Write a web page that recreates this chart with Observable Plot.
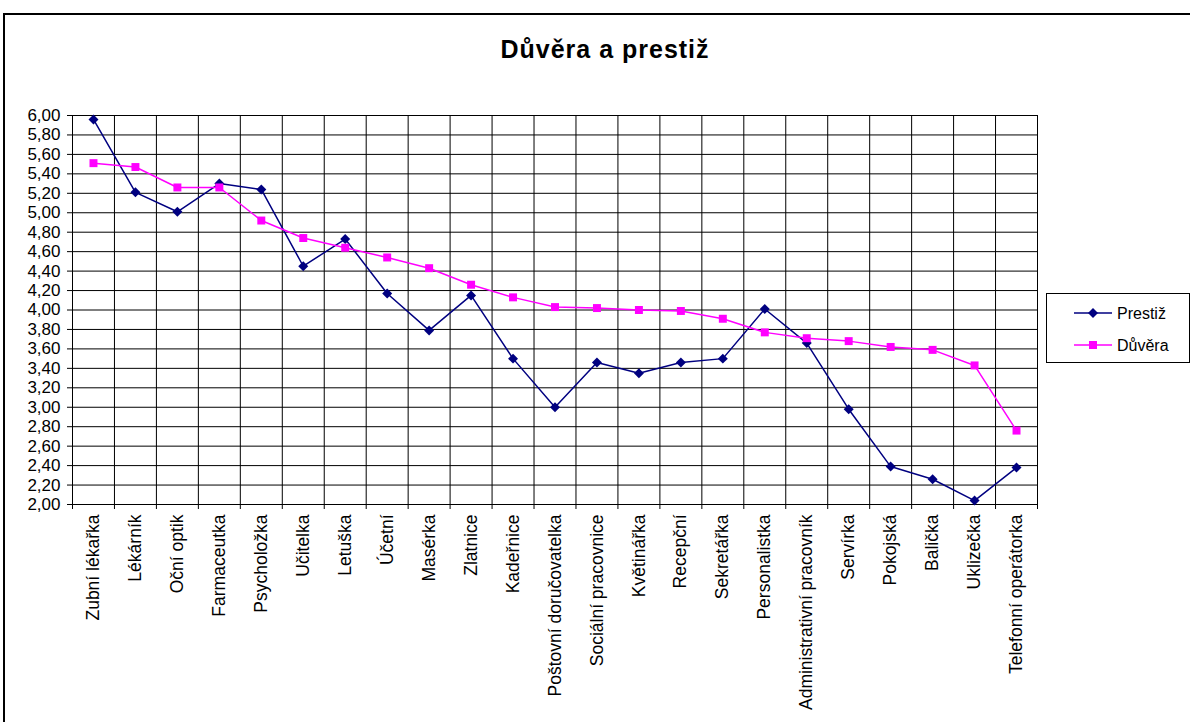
<!DOCTYPE html>
<html>
<head>
<meta charset="utf-8">
<script src="https://cdn.jsdelivr.net/npm/d3@7"></script>
<script src="https://cdn.jsdelivr.net/npm/@observablehq/plot@0.6"></script>
<style>
  html, body { margin: 0; padding: 0; background: #fff; }
  body { width: 1190px; height: 722px; overflow: hidden; position: relative; font-family: Arial, "Liberation Sans", sans-serif; }
  #frame { position: absolute; left: 3px; top: 13px; width: 1200px; height: 720px; border: 2px solid #000; box-sizing: border-box; }
  #title { position: absolute; left: 0; top: 37px; width: 1210px; text-align: center; font-weight: bold; font-size: 25px; letter-spacing: 1px; line-height: 1; color: #000; }
  #chart { position: absolute; left: 0; top: 0; }
  #legend { position: absolute; left: 1046px; top: 293px; width: 144px; height: 70px; border: 1px solid #000; box-sizing: border-box; background: #fff; }
</style>
</head>
<body>
<div id="frame"></div>
<div id="chart"></div>
<div id="title">Důvěra a prestiž</div>
<div id="legend"></div>
<script>
const categories = [
  "Zubní lékařka", "Lékárník", "Oční optik", "Farmaceutka", "Psycholožka",
  "Učitelka", "Letuška", "Účetní", "Masérka", "Zlatnice", "Kadeřnice",
  "Poštovní doručovatelka", "Sociální pracovnice", "Květinářka", "Recepční",
  "Sekretářka", "Personalistka", "Administrativní pracovník", "Servírka",
  "Pokojská", "Balička", "Uklizečka", "Telefonní operátorka"
];
const prestiz = [5.96, 5.21, 5.01, 5.30, 5.24, 4.45, 4.73, 4.17, 3.79, 4.15, 3.50,
  3.00, 3.46, 3.35, 3.46, 3.50, 4.01, 3.66, 2.98, 2.39, 2.26, 2.04, 2.38];
const duvera = [5.51, 5.47, 5.26, 5.26, 4.92, 4.74, 4.64, 4.54, 4.43, 4.26, 4.13,
  4.03, 4.02, 4.00, 3.99, 3.91, 3.77, 3.71, 3.68, 3.62, 3.59, 3.43, 2.76];
const yTicks = [2.0, 2.2, 2.4, 2.6, 2.8, 3.0, 3.2, 3.4, 3.6, 3.8, 4.0,
  4.2, 4.4, 4.6, 4.8, 5.0, 5.2, 5.4, 5.6, 5.8, 6.0];
const seriesNames = ["Prestiž", "Důvěra"];
const seriesColors = ["#000080", "#FF00FF"];

const idx = categories.map((_, i) => i);
const bounds = categories.map((_, i) => i - 0.5).concat([categories.length - 0.5]);
const data = categories.map((c, i) => ({ i, cat: c, prestiz: prestiz[i], duvera: duvera[i] }));

const plot = Plot.plot({
  width: 1190,
  height: 722,
  marginLeft: 72,
  marginRight: 153,
  marginTop: 115,
  marginBottom: 218,
  x: { type: "linear", domain: [-0.5, categories.length - 0.5] },
  y: { domain: [2, 6] },
  style: { fontFamily: "Arial, 'Liberation Sans', sans-serif", fontSize: "16px", color: "#000", background: "transparent" },
  marks: [
    Plot.ruleY(yTicks, { stroke: "#000", strokeWidth: 1 }),
    Plot.ruleX(bounds, { stroke: "#000", strokeWidth: 1 }),
    Plot.axisY({ ticks: yTicks, tickSize: 5, tickPadding: 7, tickFormat: d => d.toFixed(2).replace(".", ","), label: null, fontSize: 17 }),
    Plot.axisX({ ticks: bounds, tickSize: 5, tickFormat: () => "", label: null }),
    Plot.axisX({ ticks: idx, tickSize: 0, tickPadding: 10, tickRotate: -90, tickFormat: i => categories[i], label: null, fontSize: 17.5 }),
    Plot.line(data, { x: "i", y: "prestiz", stroke: seriesColors[0], strokeWidth: 1.5 }),
    Plot.dot(data, { x: "i", y: "prestiz", symbol: "diamond2", r: 4.5, fill: seriesColors[0], stroke: "none" }),
    Plot.line(data, { x: "i", y: "duvera", stroke: seriesColors[1], strokeWidth: 1.5 }),
    Plot.dot(data, { x: "i", y: "duvera", symbol: "square", r: 4.5, fill: seriesColors[1], stroke: "none" })
  ]
});
document.getElementById("chart").appendChild(plot);

// Legend
const lg = d3.select("#legend").append("svg").attr("width", 142).attr("height", 68);
const ys = [19, 51];
seriesNames.forEach((name, k) => {
  lg.append("line").attr("x1", 27).attr("x2", 65).attr("y1", ys[k]).attr("y2", ys[k])
    .attr("stroke", seriesColors[k]).attr("stroke-width", 1.5);
  const sym = k === 0 ? d3.symbolDiamond2 : d3.symbolSquare;
  lg.append("path").attr("d", d3.symbol(sym, Math.PI * 4.5 * 4.5)())
    .attr("transform", `translate(46,${ys[k]})`).attr("fill", seriesColors[k]);
  lg.append("text").attr("x", 70).attr("y", ys[k]).attr("dy", "0.35em")
    .attr("font-size", 16).attr("font-family", "Arial, 'Liberation Sans', sans-serif").text(name);
});
</script>
</body>
</html>
